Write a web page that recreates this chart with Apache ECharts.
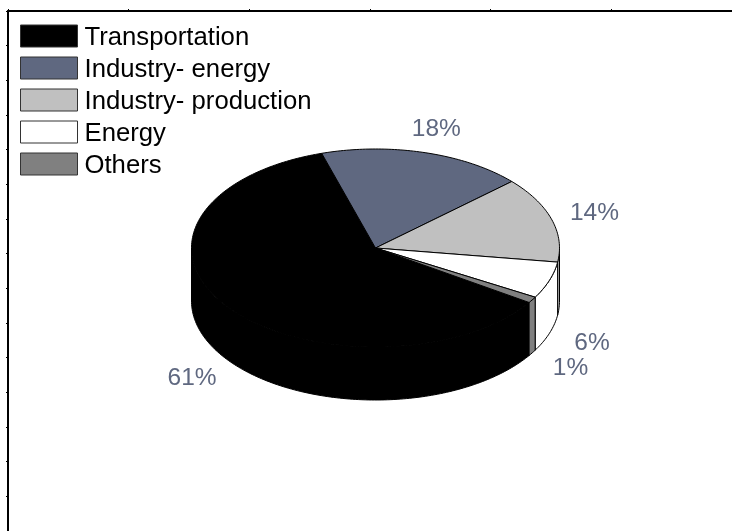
<!DOCTYPE html>
<html>
<head>
<meta charset="utf-8">
<style>html,body{margin:0;padding:0;background:#fff}#chart{width:732px;height:531px}</style>
<script src="https://cdn.jsdelivr.net/npm/echarts@6/dist/echarts.min.js"></script>
</head>
<body>
<div id="chart"></div>
<script>
// Share of emissions per sector, in percent
const sectors = ['Transportation', 'Industry- energy', 'Industry- production', 'Energy', 'Others'];
const shares = [61, 18, 14, 6, 1];
const sliceColors = ['#000000', '#5f6880', '#c0c0c0', '#ffffff', '#808080'];

// Geometry of the tilted disc: top-face ellipse, rim height and label ring
const CX = 375.5, CY = 248, RX = 184, RY = 99, DEPTH = 53;
const LABEL_RX = 229, LABEL_RY = 125, LABEL_DROP = 2;
const START_DEG = 123.4;
const FONT = '"Liberation Sans", Arial, sans-serif';

const total = shares.reduce((a, b) => a + b, 0);

// Angles run clockwise from the top of the disc
function rimPoint(deg, drop) {
  const r = deg * Math.PI / 180;
  return [CX + RX * Math.sin(r), CY - RY * Math.cos(r) + drop];
}

function arcPoints(from, to, drop) {
  const pts = [];
  const steps = Math.max(2, Math.ceil(to - from));
  for (let i = 0; i <= steps; i++) pts.push(rimPoint(from + (to - from) * i / steps, drop));
  return pts;
}

function sliceRange(index) {
  let before = 0;
  for (let i = 0; i < index; i++) before += shares[i];
  return [START_DEG + before / total * 360, START_DEG + (before + shares[index]) / total * 360];
}

function drawSlice(index) {
  return function (params, api) {
    const [from, to] = sliceRange(index);
    const color = sliceColors[index];
    const children = [];

    // Front wall: only the rim between 90 and 270 degrees faces the viewer,
    // and slices past the top of the disc carry angles above 360
    [0, 360].forEach(function (turn) {
      const wallFrom = Math.max(from, 90 + turn), wallTo = Math.min(to, 270 + turn);
      if (wallTo > wallFrom) {
        const upper = arcPoints(wallFrom, wallTo, 0);
        const lower = arcPoints(wallFrom, wallTo, DEPTH).reverse();
        children.push({
          type: 'polygon', z2: 1,
          shape: { points: upper.concat(lower) },
          style: { fill: color, stroke: '#000', lineWidth: 1 }
        });
      }
    });

    // Top face
    children.push({
      type: 'polygon', z2: 2,
      shape: { points: [[CX, CY]].concat(arcPoints(from, to, 0)) },
      style: { fill: color, stroke: '#000', lineWidth: 1, lineJoin: 'round' }
    });

    // Percentage label on a wider ring, pushed down past the rim on the front half
    const mid = (from + to) / 2 * Math.PI / 180;
    const cos = Math.cos(mid);
    children.push({
      type: 'text', z2: 3,
      style: {
        text: shares[index] + '%',
        x: CX + LABEL_RX * Math.sin(mid),
        y: CY + LABEL_DROP - LABEL_RY * cos + (cos < 0 ? DEPTH : 0),
        fill: '#5f6880',
        font: '24.5px ' + FONT,
        align: 'center',
        verticalAlign: 'middle'
      }
    });
    return { type: 'group', children };
  };
}

const chart = echarts.init(document.getElementById('chart'), null, { renderer: 'canvas' });

const frameLine = { show: true, onZero: false, lineStyle: { color: '#000', width: 2 } };
const frameTick = { show: true, length: 2, lineStyle: { color: '#000', width: 1 } };

chart.setOption({
  animation: false,
  backgroundColor: '#fff',
  // Plot frame: only the top and left edges fall inside the canvas
  grid: { left: 8, top: 11, width: 735, height: 525 },
  xAxis: {
    type: 'value', position: 'top', min: 0, max: 6, interval: 1,
    axisLine: frameLine, axisTick: frameTick, axisLabel: { show: false }, splitLine: { show: false }
  },
  yAxis: {
    type: 'value', position: 'left', min: 0, max: 15, interval: 1,
    axisLine: frameLine, axisTick: frameTick, axisLabel: { show: false }, splitLine: { show: false }
  },
  legend: {
    orient: 'vertical', left: 15, top: 16,
    itemWidth: 57, itemHeight: 22, itemGap: 2,
    icon: 'rect',
    data: sectors,
    selectedMode: false,
    itemStyle: { borderColor: '#333', borderWidth: 1 },
    formatter: name => '{entry|' + name + '}',
    textStyle: {
      rich: {
        entry: { color: '#000', fontFamily: FONT, fontSize: 25.7, lineHeight: 26, padding: [4, 0, 0, 2] }
      }
    }
  },
  series: sectors.map((name, i) => ({
    type: 'custom',
    name,
    coordinateSystem: 'none',
    silent: true,
    itemStyle: { color: sliceColors[i] },
    data: [shares[i]],
    renderItem: drawSlice(i)
  }))
});
</script>
</body>
</html>
